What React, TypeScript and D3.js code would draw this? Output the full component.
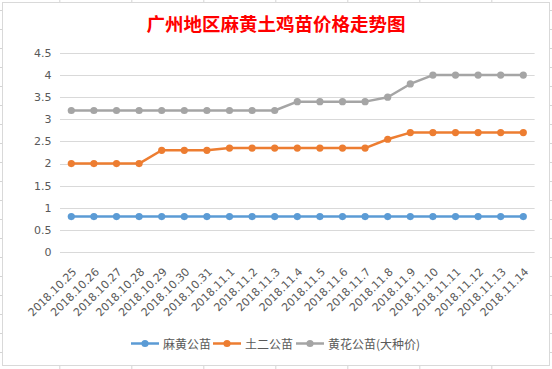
import React from "react";
import * as d3 from "d3";

const dates = [
  "2018.10.25", "2018.10.26", "2018.10.27", "2018.10.28", "2018.10.29", "2018.10.30", "2018.10.31",
  "2018.11.1", "2018.11.2", "2018.11.3", "2018.11.4", "2018.11.5", "2018.11.6", "2018.11.7",
  "2018.11.8", "2018.11.9", "2018.11.10", "2018.11.11", "2018.11.12", "2018.11.13", "2018.11.14",
];
const mahuang = [0.8, 0.8, 0.8, 0.8, 0.8, 0.8, 0.8, 0.8, 0.8, 0.8, 0.8, 0.8, 0.8, 0.8, 0.8, 0.8, 0.8, 0.8, 0.8, 0.8, 0.8];
const tuer = [2, 2, 2, 2, 2.3, 2.3, 2.3, 2.35, 2.35, 2.35, 2.35, 2.35, 2.35, 2.35, 2.55, 2.7, 2.7, 2.7, 2.7, 2.7, 2.7];
const huanghua = [3.2, 3.2, 3.2, 3.2, 3.2, 3.2, 3.2, 3.2, 3.2, 3.2, 3.4, 3.4, 3.4, 3.4, 3.5, 3.8, 4, 4, 4, 4, 4];
const yTicks = [0, 0.5, 1, 1.5, 2, 2.5, 3, 3.5, 4, 4.5];
const seriesNames = ["麻黄公苗", "土二公苗", "黄花公苗(大种价)"];
const title = "广州地区麻黄土鸡苗价格走势图";

const W = 552;
const H = 369;
const colors = ["#5b9bd5", "#ed7d31", "#a5a5a5"];
const textColor = "#595959";
const latin = "'DejaVu Sans', sans-serif";
const cjk = "'Noto Sans CJK SC', sans-serif";

export default function App() {
  const x = d3.scalePoint<string>().domain(dates).range([60, 534.6]).padding(0.5);
  const y = d3.scaleLinear().domain([0, 4.5]).range([252, 53]);
  const line = d3
    .line<number>()
    .x((_, i) => x(dates[i]) as number)
    .y((d) => y(d));
  const series = [mahuang, tuer, huanghua];

  const rows = d3.range(0, 20).map((k) => 10.5 + 19 * k);
  const cols = d3.range(-1, 8).map((k) => 59.8 + 72 * k);

  const legendX = [131, 213, 296];

  return (
    <svg
      width={W}
      height={H}
      style={{ position: "fixed", left: 0, top: 0, display: "block" }}
    >
      <rect x={0} y={0} width={W} height={H} fill="#ffffff" />
      {rows.map((r) => (
        <line key={"r" + r} x1={0} x2={W} y1={r} y2={r} stroke="#d4d4d4" strokeWidth={1} />
      ))}
      {cols.map((c) => (
        <line key={"c" + c} x1={c} x2={c} y1={0} y2={H} stroke="#d4d4d4" strokeWidth={1} />
      ))}
      <rect x={2.5} y={2.5} width={547} height={363} fill="#ffffff" stroke="#d9d9d9" strokeWidth={1} />

      <text
        x={276}
        y={30.5}
        textAnchor="middle"
        fill="#ff0000"
        fontFamily={cjk}
        fontWeight="bold"
        fontSize={18.5}
      >
        {title}
      </text>

      {yTicks.map((t) => (
        <g key={"y" + t}>
          <line
            x1={60}
            x2={534.6}
            y1={Math.round(y(t)) + 0.5}
            y2={Math.round(y(t)) + 0.5}
            stroke="#d9d9d9"
            strokeWidth={1}
          />
          <text
            x={51.5}
            y={y(t)}
            dy="0.35em"
            textAnchor="end"
            fill={textColor}
            fontFamily={latin}
            fontSize={11}
          >
            {String(t)}
          </text>
        </g>
      ))}

      {dates.map((d) => {
        const px = (x(d) as number) + 6;
        const py = 272.5;
        return (
          <text
            key={"x" + d}
            x={px}
            y={py}
            textAnchor="end"
            transform={`rotate(-45 ${px} ${py})`}
            fill={textColor}
            fontFamily={latin}
            fontSize={11}
          >
            {d}
          </text>
        );
      })}

      {series.map((s, si) => (
        <g key={"s" + si}>
          <path d={line(s) || ""} fill="none" stroke={colors[si]} strokeWidth={2.5} strokeLinejoin="round" />
          {s.map((v, i) => (
            <circle key={i} cx={x(dates[i]) as number} cy={y(v)} r={3.6} fill={colors[si]} />
          ))}
        </g>
      ))}

      {seriesNames.map((n, i) => (
        <g key={"l" + i}>
          <line x1={legendX[i]} x2={legendX[i] + 28} y1={343.5} y2={343.5} stroke={colors[i]} strokeWidth={2.5} />
          <circle cx={legendX[i] + 14} cy={343.5} r={3.6} fill={colors[i]} />
          <text x={legendX[i] + 32} y={348.5} fill={textColor} fontFamily={cjk} fontSize={12}>
            {n}
          </text>
        </g>
      ))}
    </svg>
  );
}
